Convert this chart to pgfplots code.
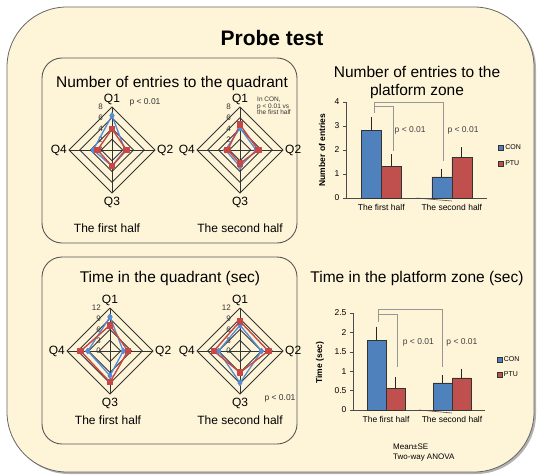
\documentclass[border=0pt]{standalone}
\usepackage{fontspec}
\setmainfont{Liberation Sans}
\usepackage{pgfplots}
\pgfplotsset{compat=1.18}
\usepgfplotslibrary{polar}

\definecolor{cream}{RGB}{254,245,217}
\definecolor{conblue}{RGB}{79,129,189}
\definecolor{ptured}{RGB}{192,80,77}
\definecolor{conradar}{RGB}{83,141,213}
\definecolor{pturadar}{RGB}{200,70,70}
\definecolor{boxline}{RGB}{85,85,85}
\definecolor{bracket}{RGB}{150,150,150}

\newcommand\fs[1]{\fontsize{#1pt}{#1pt}\selectfont}

\tikzset{
  ticklab/.style={font=\fs{8}, text=black!80, anchor=east, inner sep=0pt, xshift=-9pt},
  qlab/.style={font=\fs{12}, inner sep=2pt},
}

\pgfplotsset{
  radar/.style={hide axis, clip=false, anchor=origin,
    xmin=-#1, xmax=#1, ymin=-#1, ymax=#1},
  gridline/.style={black!80, line width=0.9pt, mark=none, forget plot, data cs=polar},
  conline/.style={conradar, line width=1.3pt, line join=round, mark=diamond*,
    mark size=2.5pt, mark options={solid, fill=conradar}, data cs=polar},
  ptuline/.style={pturadar, line width=1.4pt, line join=round, mark=square*,
    mark size=2.6pt, mark options={solid, fill=pturadar}, data cs=polar},
  bars/.style={
    anchor=south west, clip=false,
    xmin=-0.5, xmax=1.5, ymin=0,
    ybar=0pt,
    axis lines=left, axis line style={-, black!70, line width=0.6pt},
    xtick={0,1}, xticklabels={The first half, The second half},
    xtick style={draw=none},
    xticklabel style={font=\fs{8.5}},
    yticklabel style={font=\fs{8.5}},
    ytick style={black!70, line width=0.6pt},
    tick align=outside, major tick length=3pt,
    /pgf/number format/assume math mode=true,
    ylabel style={font=\bfseries\fs{8.5}, anchor=center},
    legend image code/.code={\draw[##1] (0pt,-2.4pt) rectangle (4.8pt,2.4pt);},
    legend style={draw=none, fill=none, font=\fs{7}, anchor=west, row sep=6pt,
      inner sep=0pt, nodes={inner sep=1.5pt}},
    legend cell align=left,
  },
  barerr/.style={
    error bars/y dir=plus, error bars/y explicit,
    error bars/error bar style={black!85, line width=0.6pt},
    error bars/error mark options={black!85, line width=0.6pt, mark size=3pt},
  },
  conbar/.style={fill=conblue, draw=black!80, line width=0.5pt, barerr},
  ptubar/.style={fill=ptured, draw=black!80, line width=0.5pt, barerr},
}

% diamond rings, spokes, ring values and quadrant names of one radar
\newcommand\radargrid[2]{%
  \pgfplotsinvokeforeach{#1}{%
    \addplot[gridline] coordinates {(90,##1) (0,##1) (270,##1) (180,##1) (90,##1)};}
  \addplot[gridline] coordinates {(90,#2) (270,#2)};
  \addplot[gridline] coordinates {(0,#2) (180,#2)};
  \pgfplotsinvokeforeach{0,#1}{\node[ticklab] at (axis cs:0,##1) {##1};}
  \node[qlab, anchor=south] at (axis cs:0,#2) {Q1};
  \node[qlab, anchor=west] at (axis cs:#2,0) {Q2};
  \node[qlab, anchor=north, yshift=-2pt] at (axis cs:0,-#2) {Q3};
  \node[qlab, anchor=east] at (axis cs:-#2,0) {Q4};
}

\begin{document}
\begin{tikzpicture}[x=1pt, y=1pt]
\useasboundingbox (0,0) rectangle (537,475);

% where each chart sits
\coordinate (radarTL) at (112,325);
\coordinate (radarTR) at (240,325);
\coordinate (radarBL) at (110,124);
\coordinate (radarBR) at (240,124);
\coordinate (barsT) at (346,277);
\coordinate (barsB) at (353,65);

% outer panel with its shadow
\fill[black!30, rounded corners=60pt] (9,1) rectangle (536,466);
\filldraw[fill=cream, draw=black!60, line width=0.8pt, rounded corners=60pt]
  (7,3) rectangle (534,468);
\node[font=\bfseries\fs{21}] at (272,437) {Probe test};

% inner panels around the radar charts
\draw[boxline, line width=0.9pt, rounded corners=20pt] (42,232) rectangle (297,417);
\draw[boxline, line width=0.9pt, rounded corners=20pt] (42,31) rectangle (297,218);

\node[font=\fs{15.5}] at (172,392) {Number of entries to the quadrant};
\node[font=\fs{15.5}] at (170,197) {Time in the quadrant (sec)};

\node[font=\fs{12}] at (107,247) {The first half};
\node[font=\fs{12}] at (240,247) {The second half};
\node[font=\fs{12}] at (108,55) {The first half};
\node[font=\fs{12}] at (240,55) {The second half};

\node[font=\fs{8.5}, text=black!80] at (145,373) {p < 0.01};
\node[font=\fs{6.5}, text=black!80, anchor=north west, align=left, inner sep=0pt]
  at (257,378) {\baselineskip=8pt In CON,\\ p < 0.01 vs\\ the first half};
\node[font=\fs{8.5}, text=black!80] at (280,77) {p < 0.01};

\node[font=\fs{15.5}] at (417,403) {Number of entries to the};
\node[font=\fs{15.5}] at (417,384) {platform zone};
\node[font=\fs{15.5}] at (417,197) {Time in the platform zone (sec)};

\node[font=\fs{8}, anchor=west, inner sep=0pt] at (393,28) {Mean±SE};
\node[font=\fs{8}, anchor=west, inner sep=0pt] at (393,17) {Two-way ANOVA};

% number of entries to the quadrant, first half
\begin{axis}[radar=8, x=5.375pt, y=5.375pt, at={(radarTL)}]
  \radargrid{2,4,6,8}{8}
  \addplot[conline] coordinates {(90,6.4) (0,2.4) (270,3.0) (180,3.5) (90,6.4)};
  \addplot[ptuline] coordinates {(90,3.9) (0,2.7) (270,3.0) (180,2.7) (90,3.9)};
\end{axis}

% number of entries to the quadrant, second half
\begin{axis}[radar=8, x=5.375pt, y=5.375pt, at={(radarTR)}]
  \radargrid{2,4,6,8}{8}
  \addplot[conline] coordinates {(90,4.1) (0,3.0) (270,3.1) (180,2.7) (90,4.1)};
  \addplot[ptuline] coordinates {(90,4.7) (0,3.4) (270,2.5) (180,2.3) (90,4.7)};
\end{axis}

% time in the quadrant, first half
\begin{axis}[radar=12, x=3.583pt, y=3.583pt, at={(radarBL)}]
  \radargrid{3,6,9,12}{12}
  \addplot[conline] coordinates {(90,9.5) (0,3.7) (270,6.9) (180,6.2) (90,9.5)};
  \addplot[ptuline] coordinates {(90,7.2) (0,5.0) (270,8.7) (180,8.2) (90,7.2)};
\end{axis}

% time in the quadrant, second half
\begin{axis}[radar=12, x=3.583pt, y=3.583pt, at={(radarBR)}]
  \radargrid{3,6,9,12}{12}
  \addplot[conline] coordinates {(90,7.2) (0,6.0) (270,8.9) (180,6.0) (90,7.2)};
  \addplot[ptuline] coordinates {(90,8.3) (0,7.9) (270,6.0) (180,7.3) (90,8.3)};
\end{axis}

% number of entries to the platform zone
\begin{axis}[bars, at={(barsT)}, x=70.5pt, y=24pt, ymax=4, bar width=20pt,
    ytick={0,1,2,3,4},
    ylabel={Number of entries},
    ylabel style={at={(axis description cs:-0.17,0.5)}},
    legend style={at={(axis description cs:1.08,0.44)}}]
  \addplot[conbar] coordinates {(0,2.83) +- (0,0.42) (1,0.88) +- (0,0.22)};
  \addlegendentry{CON}
  \addplot[ptubar] coordinates {(0,1.32) +- (0,0.38) (1,1.68) +- (0,0.32)};
  \addlegendentry{PTU}
  \draw[black!70, line width=0.6pt] (axis cs:0.5,0) -- ++(0,-3pt);
  \draw[bracket, line width=0.9pt] (axis cs:-0.10,3.54) -- (axis cs:-0.10,4.0)
    -- (axis cs:0.88,4.0) -- (axis cs:0.88,1.55);
  \draw[bracket, line width=0.9pt] (axis cs:-0.10,3.8) -- (axis cs:0.18,3.8)
    -- (axis cs:0.18,1.95);
  \node[font=\fs{8.5}, text=black!75] at (axis cs:0.41,2.83) {p < 0.01};
  \node[font=\fs{8.5}, text=black!75] at (axis cs:1.16,2.83) {p < 0.01};
\end{axis}

% time in the platform zone
\begin{axis}[bars, at={(barsB)}, x=66pt, y=38.8pt, ymax=2.5, bar width=19pt,
    ytick={0,0.5,1,1.5,2,2.5},
    ylabel={Time (sec)},
    ylabel style={at={(axis description cs:-0.25,0.49)}},
    legend style={at={(axis description cs:1.09,0.44)}}]
  \addplot[conbar] coordinates {(0,1.80) +- (0,0.27) (1,0.70) +- (0,0.13)};
  \addlegendentry{CON}
  \addplot[ptubar] coordinates {(0,0.55) +- (0,0.22) (1,0.83) +- (0,0.16)};
  \addlegendentry{PTU}
  \draw[black!70, line width=0.6pt] (axis cs:0.5,0) -- ++(0,-3pt);
  \draw[bracket, line width=0.9pt] (axis cs:-0.11,2.27) -- (axis cs:-0.11,2.58)
    -- (axis cs:0.86,2.58) -- (axis cs:0.86,1.1);
  \draw[bracket, line width=0.9pt] (axis cs:-0.11,2.45) -- (axis cs:0.18,2.45)
    -- (axis cs:0.18,1.1);
  \node[font=\fs{8.5}, text=black!75] at (axis cs:0.49,1.73) {p < 0.01};
  \node[font=\fs{8.5}, text=black!75] at (axis cs:1.15,1.73) {p < 0.01};
\end{axis}
\end{tikzpicture}
\end{document}
